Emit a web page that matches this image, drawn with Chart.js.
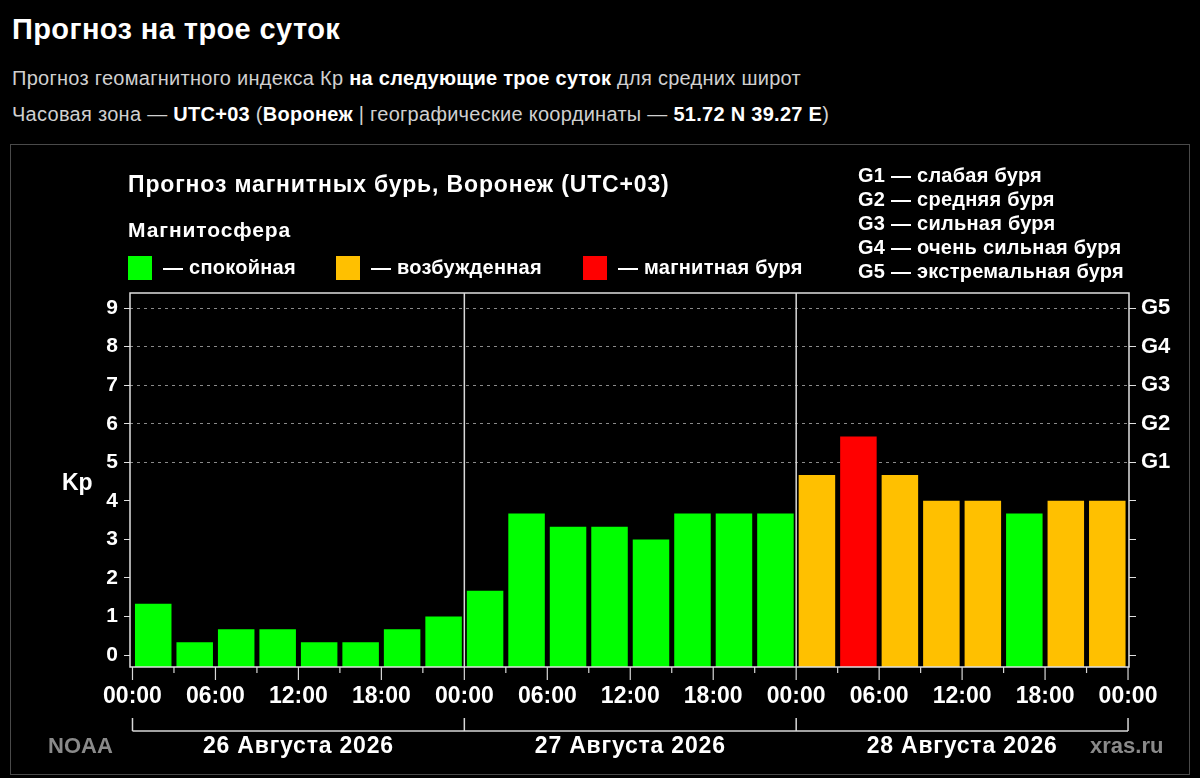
<!DOCTYPE html>
<html lang="ru">
<head>
<meta charset="utf-8">
<title>Прогноз на трое суток</title>
<script src="https://cdn.jsdelivr.net/npm/chart.js@4.4.1/dist/chart.umd.min.js"></script>
<style>
  html, body { margin: 0; padding: 0; background: #000; }
  body { width: 1200px; height: 778px; position: relative; overflow: hidden;
         font-family: "Liberation Sans", Arial, sans-serif; color: #fff; }
  .t { position: absolute; white-space: nowrap; line-height: 1.15; }
  .h1 { left: 12px; top: 13px; font-size: 29px; font-weight: bold; letter-spacing: 0.4px; }
  .sub { left: 12px; font-size: 20px; color: #d0d0d0; letter-spacing: 0.28px; }
  .sub b { color: #fff; }
  #box { position: absolute; left: 10px; top: 144px; width: 1180px; height: 631px;
         border: 1px solid #4a4a4a; box-sizing: border-box; }
  #wrap { position: absolute; left: 0; top: 0; width: 1200px; height: 778px; }
  .lg { font-size: 20px; font-weight: bold; letter-spacing: 0.25px; }
  .sq { position: absolute; width: 24px; height: 24px; }
  .gray { color: #8a8a8a; font-size: 22px; font-weight: bold; }
</style>
</head>
<body>
<div class="t h1">Прогноз на трое суток</div>
<div class="t sub" style="top:67px">Прогноз геомагнитного индекса Кр <b>на следующие трое суток</b> для средних широт</div>
<div class="t sub" style="top:103px">Часовая зона — <b>UTC+03</b> (<b>Воронеж</b> | географические координаты — <b>51.72 N 39.27 E</b>)</div>
<div id="box"></div>
<div id="wrap"><canvas id="chart"></canvas></div>

<div class="t" style="left:128px;top:171px;font-size:23px;font-weight:bold;letter-spacing:0.85px">Прогноз магнитных бурь, Воронеж (UTC+03)</div>
<div class="t" style="left:128px;top:218px;font-size:21px;font-weight:bold;letter-spacing:0.9px">Магнитосфера</div>
<div id="legend"></div>
<div id="glist"></div>
<div class="t gray" style="left:48px;top:733px">NOAA</div>
<div class="t gray" style="left:1090px;top:733px">xras.ru</div>

<script>
'use strict';

// data
const days = ['26 Августа 2026', '27 Августа 2026', '28 Августа 2026'];
const slotStart = [0, 3, 6, 9, 12, 15, 18, 21,
                   24, 27, 30, 33, 36, 39, 42, 45,
                   48, 51, 54, 57, 60, 63, 66, 69];
const kp = [1.33, 0.33, 0.67, 0.67, 0.33, 0.33, 0.67, 1.0,
            1.67, 3.67, 3.33, 3.33, 3.0, 3.67, 3.67, 3.67,
            4.67, 5.67, 4.67, 4.0, 4.0, 3.67, 4.0, 4.0];
const tickHours = [0, 3, 6, 9, 12, 15, 18, 21, 24, 27, 30, 33, 36,
                   39, 42, 45, 48, 51, 54, 57, 60, 63, 66, 69, 72];
const tickText = ['00:00', '', '06:00', '', '12:00', '', '18:00', '', '00:00', '', '06:00', '', '12:00',
                  '', '18:00', '', '00:00', '', '06:00', '', '12:00', '', '18:00', '', '00:00'];
const kpTicks = [0, 1, 2, 3, 4, 5, 6, 7, 8, 9];
const gTicks = ['', '', '', '', '', 'G1', 'G2', 'G3', 'G4', 'G5'];
const dayEdges = [0, 24, 48, 72];

const legendItems = [
    { color: '#00ff00', text: '— спокойная', x: 128 },
    { color: '#ffc000', text: '— возбужденная', x: 336 },
    { color: '#ff0000', text: '— магнитная буря', x: 583 },
];
const gNames = ['G1 — слабая буря', 'G2 — средняя буря', 'G3 — сильная буря',
                'G4 — очень сильная буря', 'G5 — экстремальная буря'];

function kpColor (v) {
    if (v >= 5) return '#ff0000';
    if (v >= 4) return '#ffc000';
    return '#00ff00';
}

// html legend
let legendSpot = document.getElementById('legend');
for (let i = 0; i < legendItems.length; i++) {
    let sq = document.createElement('div');
    sq.className = 'sq';
    sq.style.left = legendItems[i].x + 'px';
    sq.style.top = '256px';
    sq.style.background = legendItems[i].color;
    legendSpot.appendChild(sq);
    let txt = document.createElement('div');
    txt.className = 't lg';
    txt.style.left = (legendItems[i].x + 35) + 'px';
    txt.style.top = '256px';
    txt.textContent = legendItems[i].text;
    legendSpot.appendChild(txt);
}
let gSpot = document.getElementById('glist');
for (let i = 0; i < gNames.length; i++) {
    let g = document.createElement('div');
    g.className = 't lg';
    g.style.left = '858px';
    g.style.top = (164 + i * 24) + 'px';
    g.textContent = gNames[i];
    gSpot.appendChild(g);
}

const yMin = -0.31;
const yMax = 9.39;
const fontFamily = '"Liberation Sans", Arial, sans-serif';

// frame, day lines, ticks and date bracket
const extras = {
    id: 'extras',
    afterDatasetsDraw (chart) {
        let c = chart.ctx;
        let a = chart.chartArea;
        let xs = chart.scales.x;
        c.save();
        c.strokeStyle = '#e0e0e0';
        c.lineWidth = 1.5;
        c.strokeRect(a.left, a.top, a.right - a.left, a.bottom - a.top);

        c.strokeStyle = '#d8d8d8';
        for (let i = 1; i < dayEdges.length - 1; i++) {
            let px = xs.getPixelForValue(dayEdges[i]);
            c.beginPath();
            c.moveTo(px, a.top);
            c.lineTo(px, a.bottom);
            c.stroke();
        }

        c.lineWidth = 1.2;
        for (let i = 0; i < tickHours.length; i++) {
            let px = xs.getPixelForValue(tickHours[i]);
            let len = tickText[i] ? 13 : 6;
            c.beginPath();
            c.moveTo(px, a.bottom);
            c.lineTo(px, a.bottom + len);
            c.stroke();
        }

        let by = a.bottom + 64;
        c.lineWidth = 1.5;
        c.beginPath();
        c.moveTo(xs.getPixelForValue(dayEdges[0]), by);
        c.lineTo(xs.getPixelForValue(dayEdges[dayEdges.length - 1]), by);
        c.stroke();
        for (let i = 0; i < dayEdges.length; i++) {
            let px = xs.getPixelForValue(dayEdges[i]);
            c.beginPath();
            c.moveTo(px, by - 13);
            c.lineTo(px, by);
            c.stroke();
        }

        c.fillStyle = '#fff';
        c.font = 'bold 23px ' + fontFamily;
        c.letterSpacing = '0.8px';
        c.textAlign = 'center';
        c.textBaseline = 'middle';
        for (let i = 0; i < days.length; i++) {
            let px = xs.getPixelForValue((dayEdges[i] + dayEdges[i + 1]) / 2);
            c.fillText(days[i], px, by + 16);
        }

        c.letterSpacing = '0px';
        c.textAlign = 'left';
        c.fillText('Kp', 62, chart.scales.y.getPixelForValue(4.45));
        c.restore();
    }
};

let points = [];
for (let i = 0; i < kp.length; i++) {
    points.push({ x: slotStart[i] + 1.5, y: kp[i] });
}

let createChart = document.getElementById('chart').getContext('2d');
let myChart = new Chart(createChart, {
    type: 'bar',
    data: {
        datasets: [{
            label: 'Kp',
            data: points,
            backgroundColor: kp.map(kpColor),
            borderWidth: 0,
            base: yMin,
            barPercentage: 0.88,
            categoryPercentage: 1,
        }],
    },
    plugins: [extras],
    options: {
        responsive: true,
        maintainAspectRatio: false,
        animation: false,
        layout: { padding: { top: 293, left: 0, right: 0, bottom: 0 } },
        plugins: {
            legend: { display: false },
            tooltip: { enabled: false },
        },
        scales: {
            x: {
                type: 'linear',
                offset: false,
                min: -0.18,
                max: 72.07,
                afterBuildTicks: (s) => { s.ticks = tickHours.map(v => ({ value: v })); },
                afterFit: (s) => { s.height = 111; },
                grid: { display: false, drawTicks: false, offset: false },
                border: { display: false },
                ticks: {
                    autoSkip: false,
                    maxRotation: 0,
                    padding: 16,
                    color: '#fff',
                    font: { family: fontFamily, size: 23, weight: 'bold' },
                    callback: (v, i) => tickText[i],
                },
            },
            y: {
                position: 'left',
                min: yMin,
                max: yMax,
                afterBuildTicks: (s) => { s.ticks = kpTicks.map(v => ({ value: v })); },
                afterFit: (s) => { s.width = 130; },
                grid: {
                    drawOnChartArea: true,
                    color: (ctx) => (ctx.tick && ctx.tick.value >= 5 ? '#8a8a8a' : 'rgba(0,0,0,0)'),
                    tickColor: '#e0e0e0',
                    tickLength: 6,
                    lineWidth: 1,
                },
                border: { display: false, dash: [3, 4] },
                ticks: { color: '#fff', font: { family: fontFamily, size: 21, weight: 'bold' }, padding: 6 },
            },
            y2: {
                position: 'right',
                min: yMin,
                max: yMax,
                afterBuildTicks: (s) => { s.ticks = kpTicks.map(v => ({ value: v })); },
                afterFit: (s) => { s.width = 71; },
                grid: { drawOnChartArea: false, tickColor: '#e0e0e0', tickLength: 7 },
                border: { display: false },
                ticks: {
                    color: '#fff',
                    font: { family: fontFamily, size: 22, weight: 'bold' },
                    padding: 5,
                    callback: (v, i) => gTicks[i],
                },
            },
        },
    },
});
</script>
</body>
</html>
